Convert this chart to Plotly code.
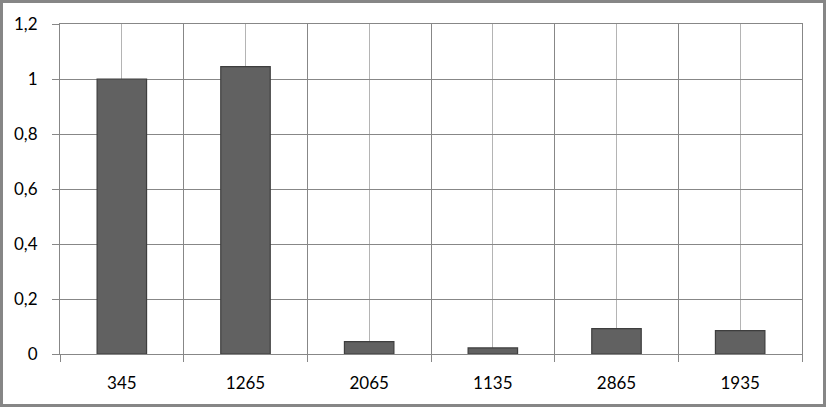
import plotly.graph_objects as go

categories = ["345", "1265", "2065", "1135", "2865", "1935"]
values = [1.0, 1.045, 0.045, 0.022, 0.092, 0.085]
y_ticks = [0, 0.2, 0.4, 0.6, 0.8, 1.0, 1.2]
y_labels = ["0", "0,2", "0,4", "0,6", "0,8", "1", "1,2"]

W, H = 826, 407
L, R, T, B = 60, 24, 24, 53
pw, ph = W - L - R, H - T - B

xs = list(range(len(categories)))

fig = go.Figure()
fig.add_trace(go.Bar(
    x=xs, y=values, width=0.4,
    marker=dict(color="#616161", line=dict(color="#3e3e3e", width=1.2)),
    hoverinfo="skip",
))

grid_dark = "#878787"
fig.update_layout(
    width=W, height=H,
    margin=dict(l=L, r=R, t=T, b=B),
    paper_bgcolor="white", plot_bgcolor="white",
    showlegend=False,
    font=dict(family="Lato, Open Sans, sans-serif", size=17, color="#000"),
    xaxis=dict(
        range=[-0.5, len(categories) - 0.5],
        tickmode="array", tickvals=xs, ticktext=categories,
        showgrid=True, gridcolor="#b4b4b4", gridwidth=1,
        ticks="", zeroline=False,
        showline=True, linecolor=grid_dark, linewidth=1, mirror=True,
        minor=dict(tickmode="linear", tick0=-0.5, dtick=1, showgrid=True,
                   gridcolor=grid_dark, gridwidth=1, ticks="outside",
                   ticklen=7, tickcolor=grid_dark),
        ticklabelstandoff=14,
    ),
    yaxis=dict(
        range=[0, 1.2],
        tickmode="array", tickvals=y_ticks, ticktext=y_labels,
        showgrid=True, gridcolor=grid_dark, gridwidth=1,
        ticks="outside", ticklen=7, tickcolor=grid_dark,
        zeroline=False,
        showline=True, linecolor=grid_dark, linewidth=1, mirror=True,
        ticklabelstandoff=11,
    ),
    shapes=[dict(
        type="rect", xref="paper", yref="paper",
        x0=(1.5 - L) / pw, x1=(W - 1.5 - L) / pw,
        y0=((T + ph) - (H - 1.5)) / ph, y1=((T + ph) - 1.5) / ph,
        line=dict(color="#868686", width=3), layer="above",
    )],
)

fig.write_html("out.html", config={"displayModeBar": False},
               post_script="document.body.style.margin='0';document.body.style.padding='0';")
